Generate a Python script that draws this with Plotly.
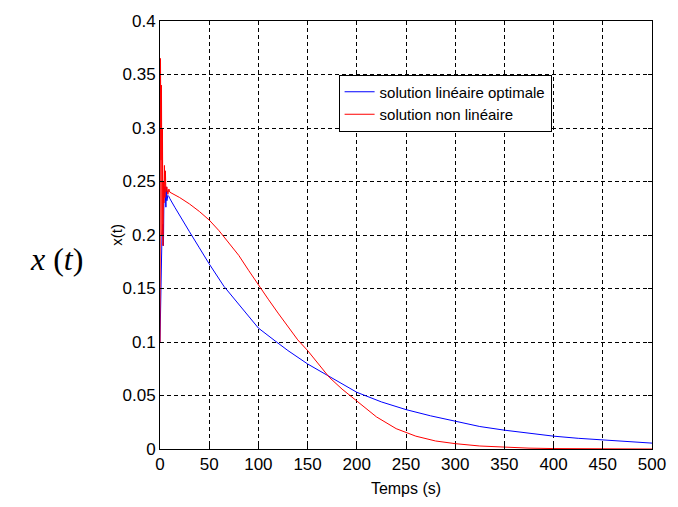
import plotly.graph_objects as go

# Time samples (s) and responses x(t)
t_lin = [0, 1, 2, 3, 3.5, 4, 5, 6, 6.5, 7, 8, 9, 10, 15, 20, 30, 40, 50, 65, 80,
         100, 117, 130, 150, 175, 200, 225, 250, 275, 300, 325, 350, 375, 400,
         425, 450, 475, 500]
x_lin = [0.10, 0.15, 0.20, 0.21, 0.19, 0.235, 0.245, 0.226, 0.245, 0.232, 0.237,
         0.236, 0.234, 0.226, 0.218, 0.203, 0.188, 0.173, 0.152, 0.135, 0.113,
         0.101, 0.092, 0.0795, 0.066, 0.053, 0.044, 0.0368, 0.031, 0.026, 0.021,
         0.0176, 0.0145, 0.012, 0.010, 0.0083, 0.0068, 0.0055]

t_nl = [0, 0.5, 1, 1.5, 2, 2.5, 3, 3.5, 4, 4.5, 5, 5.5, 6, 7, 8, 9, 10, 20, 30,
        40, 50, 60, 70, 80, 90, 100, 110, 120, 130, 140, 150, 160, 172, 185,
        200, 220, 240, 260, 280, 300, 325, 350, 375, 400, 450, 500]
x_nl = [0.10, 0.365, 0.27, 0.34, 0.20, 0.30, 0.19, 0.25, 0.23, 0.265, 0.235,
        0.26, 0.24, 0.245, 0.238, 0.243, 0.240, 0.235, 0.229, 0.222, 0.214,
        0.204, 0.193, 0.181, 0.167, 0.153, 0.140, 0.127, 0.114, 0.102, 0.092,
        0.081, 0.067, 0.056, 0.045, 0.030, 0.019, 0.012, 0.0075, 0.0050,
        0.0028, 0.0015, 0.0008, 0.0004, 0.0001, 0.0]

x_ticks = [0, 50, 100, 150, 200, 250, 300, 350, 400, 450, 500]
y_ticks = [0, 0.05, 0.1, 0.15, 0.2, 0.25, 0.3, 0.35, 0.4]
y_labels = ["0", "0.05", "0.1", "0.15", "0.2", "0.25", "0.3", "0.35", "0.4"]

SANS = "Liberation Sans, Arial"
FS = 17

fig = go.Figure()
fig.add_trace(go.Scatter(x=t_lin, y=x_lin, mode="lines",
                         name="solution linéaire optimale",
                         line=dict(color="#0000ff", width=1)))
fig.add_trace(go.Scatter(x=t_nl, y=x_nl, mode="lines",
                         name="solution non linéaire",
                         line=dict(color="#ff0000", width=1)))

axis_common = dict(
    showline=True, linecolor="black", linewidth=1, mirror="ticks",
    ticks="inside", ticklen=4, tickcolor="black",
    showgrid=True, gridcolor="black", gridwidth=1, griddash="4px,3px",
    zeroline=False, ticklabeloverflow="allow",
    tickfont=dict(family=SANS, size=FS, color="black"),
)

fig.update_xaxes(range=[0, 500], tickvals=x_ticks,
                 title=dict(text="Temps (s)", standoff=9,
                            font=dict(family=SANS, size=16, color="black")),
                 **axis_common)
fig.update_yaxes(range=[0, 0.4], tickvals=y_ticks, ticktext=y_labels,
                 **axis_common)

fig.add_annotation(x=-0.09, y=0.5, xref="paper", yref="paper",
                   text="x(t)", textangle=-90, showarrow=False,
                   xanchor="center", yanchor="middle",
                   font=dict(family=SANS, size=15, color="black"))
fig.add_annotation(x=-0.21, y=0.445, xref="paper", yref="paper",
                   text="<i>x</i> (<i>t</i>)", showarrow=False,
                   xanchor="center", yanchor="middle",
                   font=dict(family="Liberation Serif, Times New Roman, serif",
                             size=32, color="black"))

fig.update_layout(
    width=678, height=507,
    margin=dict(l=160, r=13, t=15, b=58),
    paper_bgcolor="white", plot_bgcolor="white",
    showlegend=True,
    legend=dict(x=0.363, y=0.875, xanchor="left", yanchor="top",
                bgcolor="white", bordercolor="black", borderwidth=1,
                font=dict(family=SANS, size=15, color="black"),
                tracegroupgap=0, itemwidth=30),
)

fig.write_html("out.html")
